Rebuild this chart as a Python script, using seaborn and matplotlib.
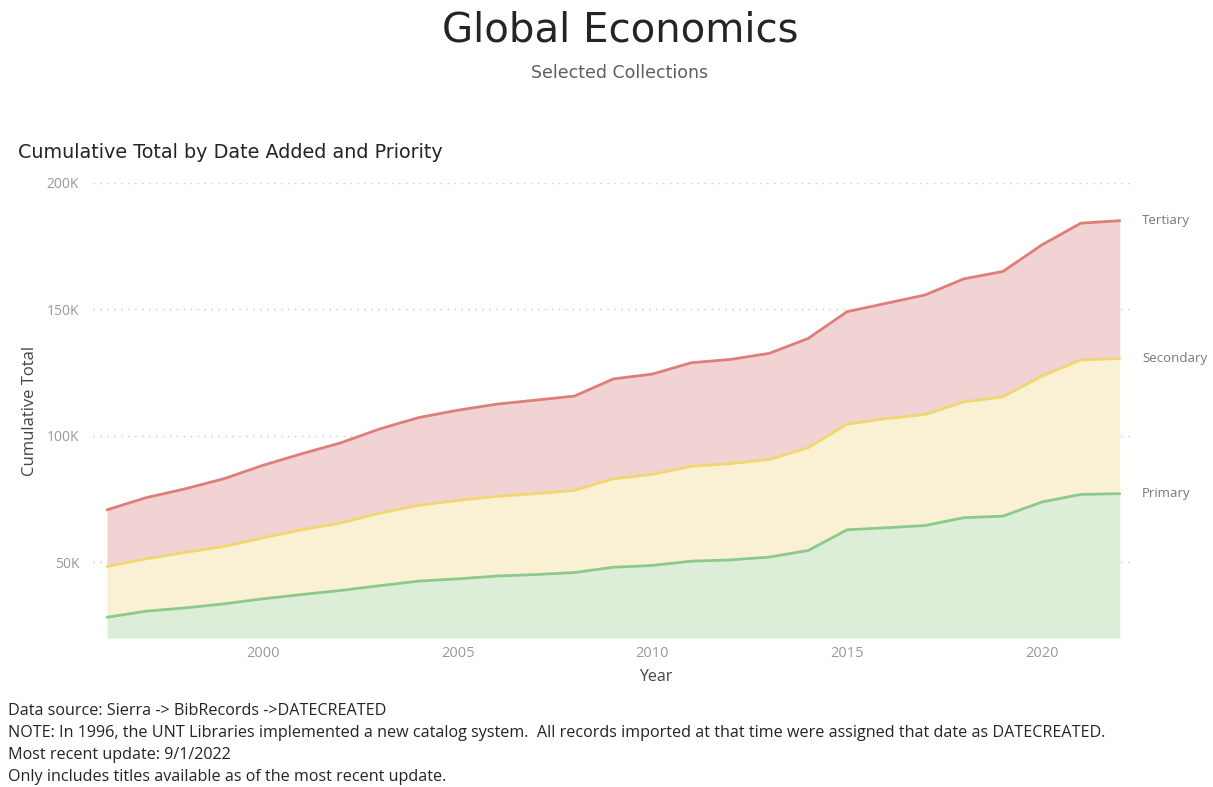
import matplotlib
matplotlib.use("Agg")
import matplotlib.pyplot as plt
import seaborn as sns
import numpy as np
import pandas as pd

# ---- data (values per priority, stacked to give cumulative totals) ----
years = list(range(1996, 2023))
primary = [28200, 30600, 31900, 33500, 35500, 37200, 38800, 40700, 42500, 43400,
           44500, 45100, 45900, 48000, 48700, 50400, 50900, 52000, 54600, 62800,
           63600, 64500, 67600, 68200, 73800, 76800, 77100]
secondary = [20100, 20700, 22000, 22700, 24100, 25600, 26700, 28700, 30000, 31000,
             31500, 32000, 32500, 35000, 36000, 37500, 38100, 38600, 40700, 41800,
             43200, 43900, 45800, 47200, 49800, 53200, 53500]
tertiary = [22400, 24200, 25100, 26800, 28700, 30100, 31700, 33300, 34700, 35700,
            36500, 37000, 37300, 39500, 39700, 41000, 41200, 42000, 43200, 44500,
            45600, 47300, 48700, 49600, 51900, 54100, 54500]
priorities = ["Primary", "Secondary", "Tertiary"]
y_ticks = [50000, 100000, 150000, 200000]
y_tick_labels = ["50K", "100K", "150K", "200K"]
x_ticks = [2000, 2005, 2010, 2015, 2020]

line_colors = {"Primary": "#8DC98A", "Secondary": "#F0D770", "Tertiary": "#DE7E7A"}
fill_colors = {"Primary": "#DCEDD8", "Secondary": "#FAF0D3", "Tertiary": "#F2D3D3"}

df = pd.DataFrame({"Year": years, "Primary": primary,
                   "Secondary": secondary, "Tertiary": tertiary})
cum = df[priorities].cumsum(axis=1)
cum["Year"] = df["Year"]
long = cum.melt(id_vars="Year", var_name="Priority", value_name="Cumulative Total")

sns.set_theme(style="white")
plt.rcParams["font.family"] = ["Open Sans", "DejaVu Sans"]

fig = plt.figure(figsize=(12.13, 7.87), dpi=100)
ax = fig.add_axes([93 / 1213, 149 / 787, (1133 - 93) / 1213, (638 - 183) / 787])

ylo = 20000
prev = np.full(len(years), ylo, dtype=float)
for p in priorities:
    top = cum[p].values
    ax.fill_between(df["Year"], prev, top, color=fill_colors[p], linewidth=0, zorder=1)
    prev = top

sns.lineplot(data=long, x="Year", y="Cumulative Total", hue="Priority",
             palette=line_colors, linewidth=2.0, legend=False, ax=ax, zorder=3)

ax.set_xlim(1995.64, 2022.34)
ax.set_ylim(ylo, 200000)
ax.set_yticks(y_ticks)
ax.set_yticklabels(y_tick_labels)
ax.set_xticks(x_ticks)
ax.set_xticklabels([str(t) for t in x_ticks])
ax.tick_params(axis="both", length=0, labelsize=10, labelcolor="#999999")
ax.tick_params(axis="x", labelsize=10.5, pad=6)
ax.tick_params(axis="y", pad=10)
ax.yaxis.grid(True, linestyle=(0, (1, 4)), color="#C8C8C8", linewidth=1.0, zorder=0)
ax.xaxis.grid(False)
for s in ax.spines.values():
    s.set_visible(False)
ax.set_axisbelow(True)

ax.set_xlabel("Year", fontsize=11.5, color="#444444")
ax.set_ylabel("Cumulative Total", fontsize=12, color="#444444")
ax.xaxis.set_label_coords((656 - 93) / 1040, -(677 - 638) / 455, transform=ax.transAxes)
ax.xaxis.label.set_va("center")
ax.yaxis.set_label_coords(-(93 - 30) / 1040, 0.5, transform=ax.transAxes)
ax.yaxis.label.set_va("center")

for p in priorities:
    ax.annotate(p, xy=(years[-1], cum[p].values[-1]), xytext=(16, 0),
                textcoords="offset points", va="center", ha="left",
                fontsize=9.5, color="#777777", annotation_clip=False)

fig.text(620 / 1213, 1 - 30 / 787, "Global Economics", ha="center", va="center",
         fontsize=29, color="#252423", family=["DejaVu Sans"])
fig.text(620 / 1213, 1 - 73 / 787, "Selected Collections", ha="center", va="center",
         fontsize=12.5, color="#605E5C", family=["DejaVu Sans"])
fig.text(18 / 1213, 1 - 153 / 787, "Cumulative Total by Date Added and Priority",
         ha="left", va="center", fontsize=13.75, color="#252423",
         family=["DejaVu Sans"])

notes = ["Data source: Sierra -> BibRecords ->DATECREATED",
         "NOTE: In 1996, the UNT Libraries implemented a new catalog system.  All records imported at that time were assigned that date as DATECREATED.",
         "Most recent update: 9/1/2022",
         "Only includes titles available as of the most recent update."]
for i, line in enumerate(notes):
    fig.text(8 / 1213, 1 - (711 + 22 * i) / 787, line, ha="left", va="center",
             fontsize=11.6, color="#252423")

fig.savefig("out.png", dpi=100)
